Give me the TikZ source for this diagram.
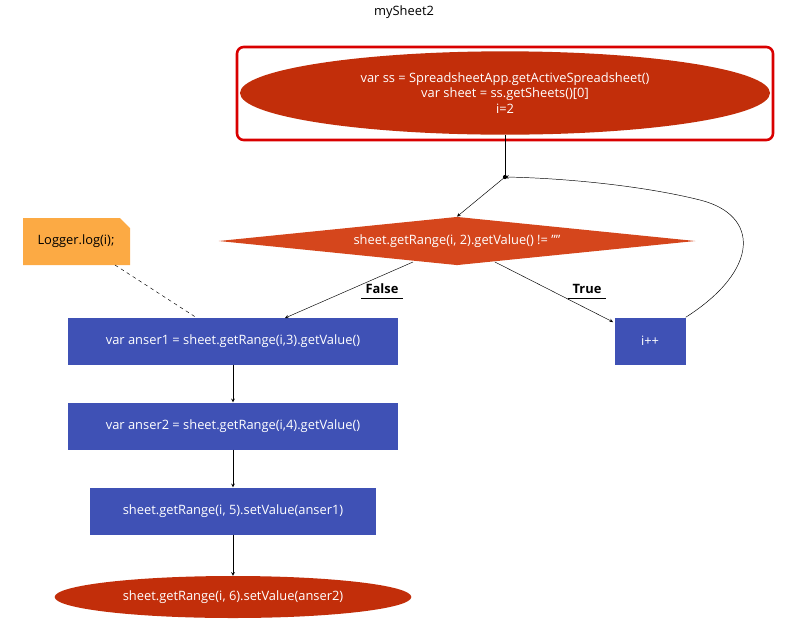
\documentclass[tikz,border=0pt]{standalone}
\usepackage{fontspec}
\setmainfont{Open Sans}
\usetikzlibrary{positioning,arrows,shapes}
\definecolor{startred}{HTML}{C22E0A}
\definecolor{condred}{HTML}{D5461C}
\definecolor{stepblue}{HTML}{3F51B5}
\definecolor{noteorange}{HTML}{FCAA44}
\tikzset{
semithick,
>=stealth,
every node/.style={font=\fontsize{11}{13}\selectfont},
startnode/.style={ellipse,fill=startred,text=white,align=center,inner sep=0pt},
cond/.style={diamond,fill=condred,text=white,aspect=10,inner sep=0pt},
stepbox/.style={rectangle,fill=stepblue,text=white,minimum height=1.41cm},
lbl/.style={font=\fontsize{11}{13}\selectfont\bfseries}
}
\begin{document}
\begin{tikzpicture}[x=0.03cm,y=-0.03cm]
\useasboundingbox (0,0) rectangle (800,631);
\node (title) at (404,12) {mySheet2};
\draw[draw=red!85!black,line width=2.2pt,rounded corners=2mm] (237,47) rectangle (773,140);
\node[startnode,minimum width=15.9cm,minimum height=2.5cm] (start) at (505,93)
  {var ss = SpreadsheetApp.getActiveSpreadsheet()\\var sheet = ss.getSheets()[0]\\i=2};
\coordinate (join) at (505,177);
\fill (join) circle (1.8pt);
\node[cond,minimum width=14.3cm,minimum height=1.45cm] (check) at (457,241)
  {sheet.getRange(i, 2).getValue() != ""};
\fill[noteorange] (23,218) -- (120,218) -- (130,228) -- (130,265) -- (23,265) -- cycle;
\node (logger) at (76,241) {Logger.log(i);};
\node[stepbox,minimum width=9.9cm] (anser1) at (233,341) {var anser1 = sheet.getRange(i,3).getValue()};
\node[stepbox,minimum width=2.13cm] (inc) at (650,341) {i++};
\node[stepbox,minimum width=9.9cm] (anser2) at (233,426) {var anser2 = sheet.getRange(i,4).getValue()};
\node[stepbox,minimum width=8.58cm] (set5) at (233,511) {sheet.getRange(i, 5).setValue(anser1)};
\node[startnode,minimum width=10.7cm,minimum height=1.26cm] (set6) at (233,597) {sheet.getRange(i, 6).setValue(anser2)};

\draw (start.south) -- (join);
\draw[->] (join) -- (check.north);
\draw[->] (413,262) -- (285,318);
\node[lbl] (false) at (382,289) {False};
\draw (false.south west) -- (false.south east);
\draw[->] (495,262) -- (613,322);
\node[lbl] (true) at (587,289) {True};
\draw (true.south west) -- (true.south east);
\draw[->] (inc.north east) .. controls (760,270) and (760,215) .. (700,200)
  .. controls (640,185) and (560,178) .. (join);
\draw[dashed] (115,265) -- (197,318);
\draw[->] (anser1) -- (anser2);
\draw[->] (anser2) -- (set5);
\draw[->] (set5) -- (set6);
\end{tikzpicture}
\end{document}
